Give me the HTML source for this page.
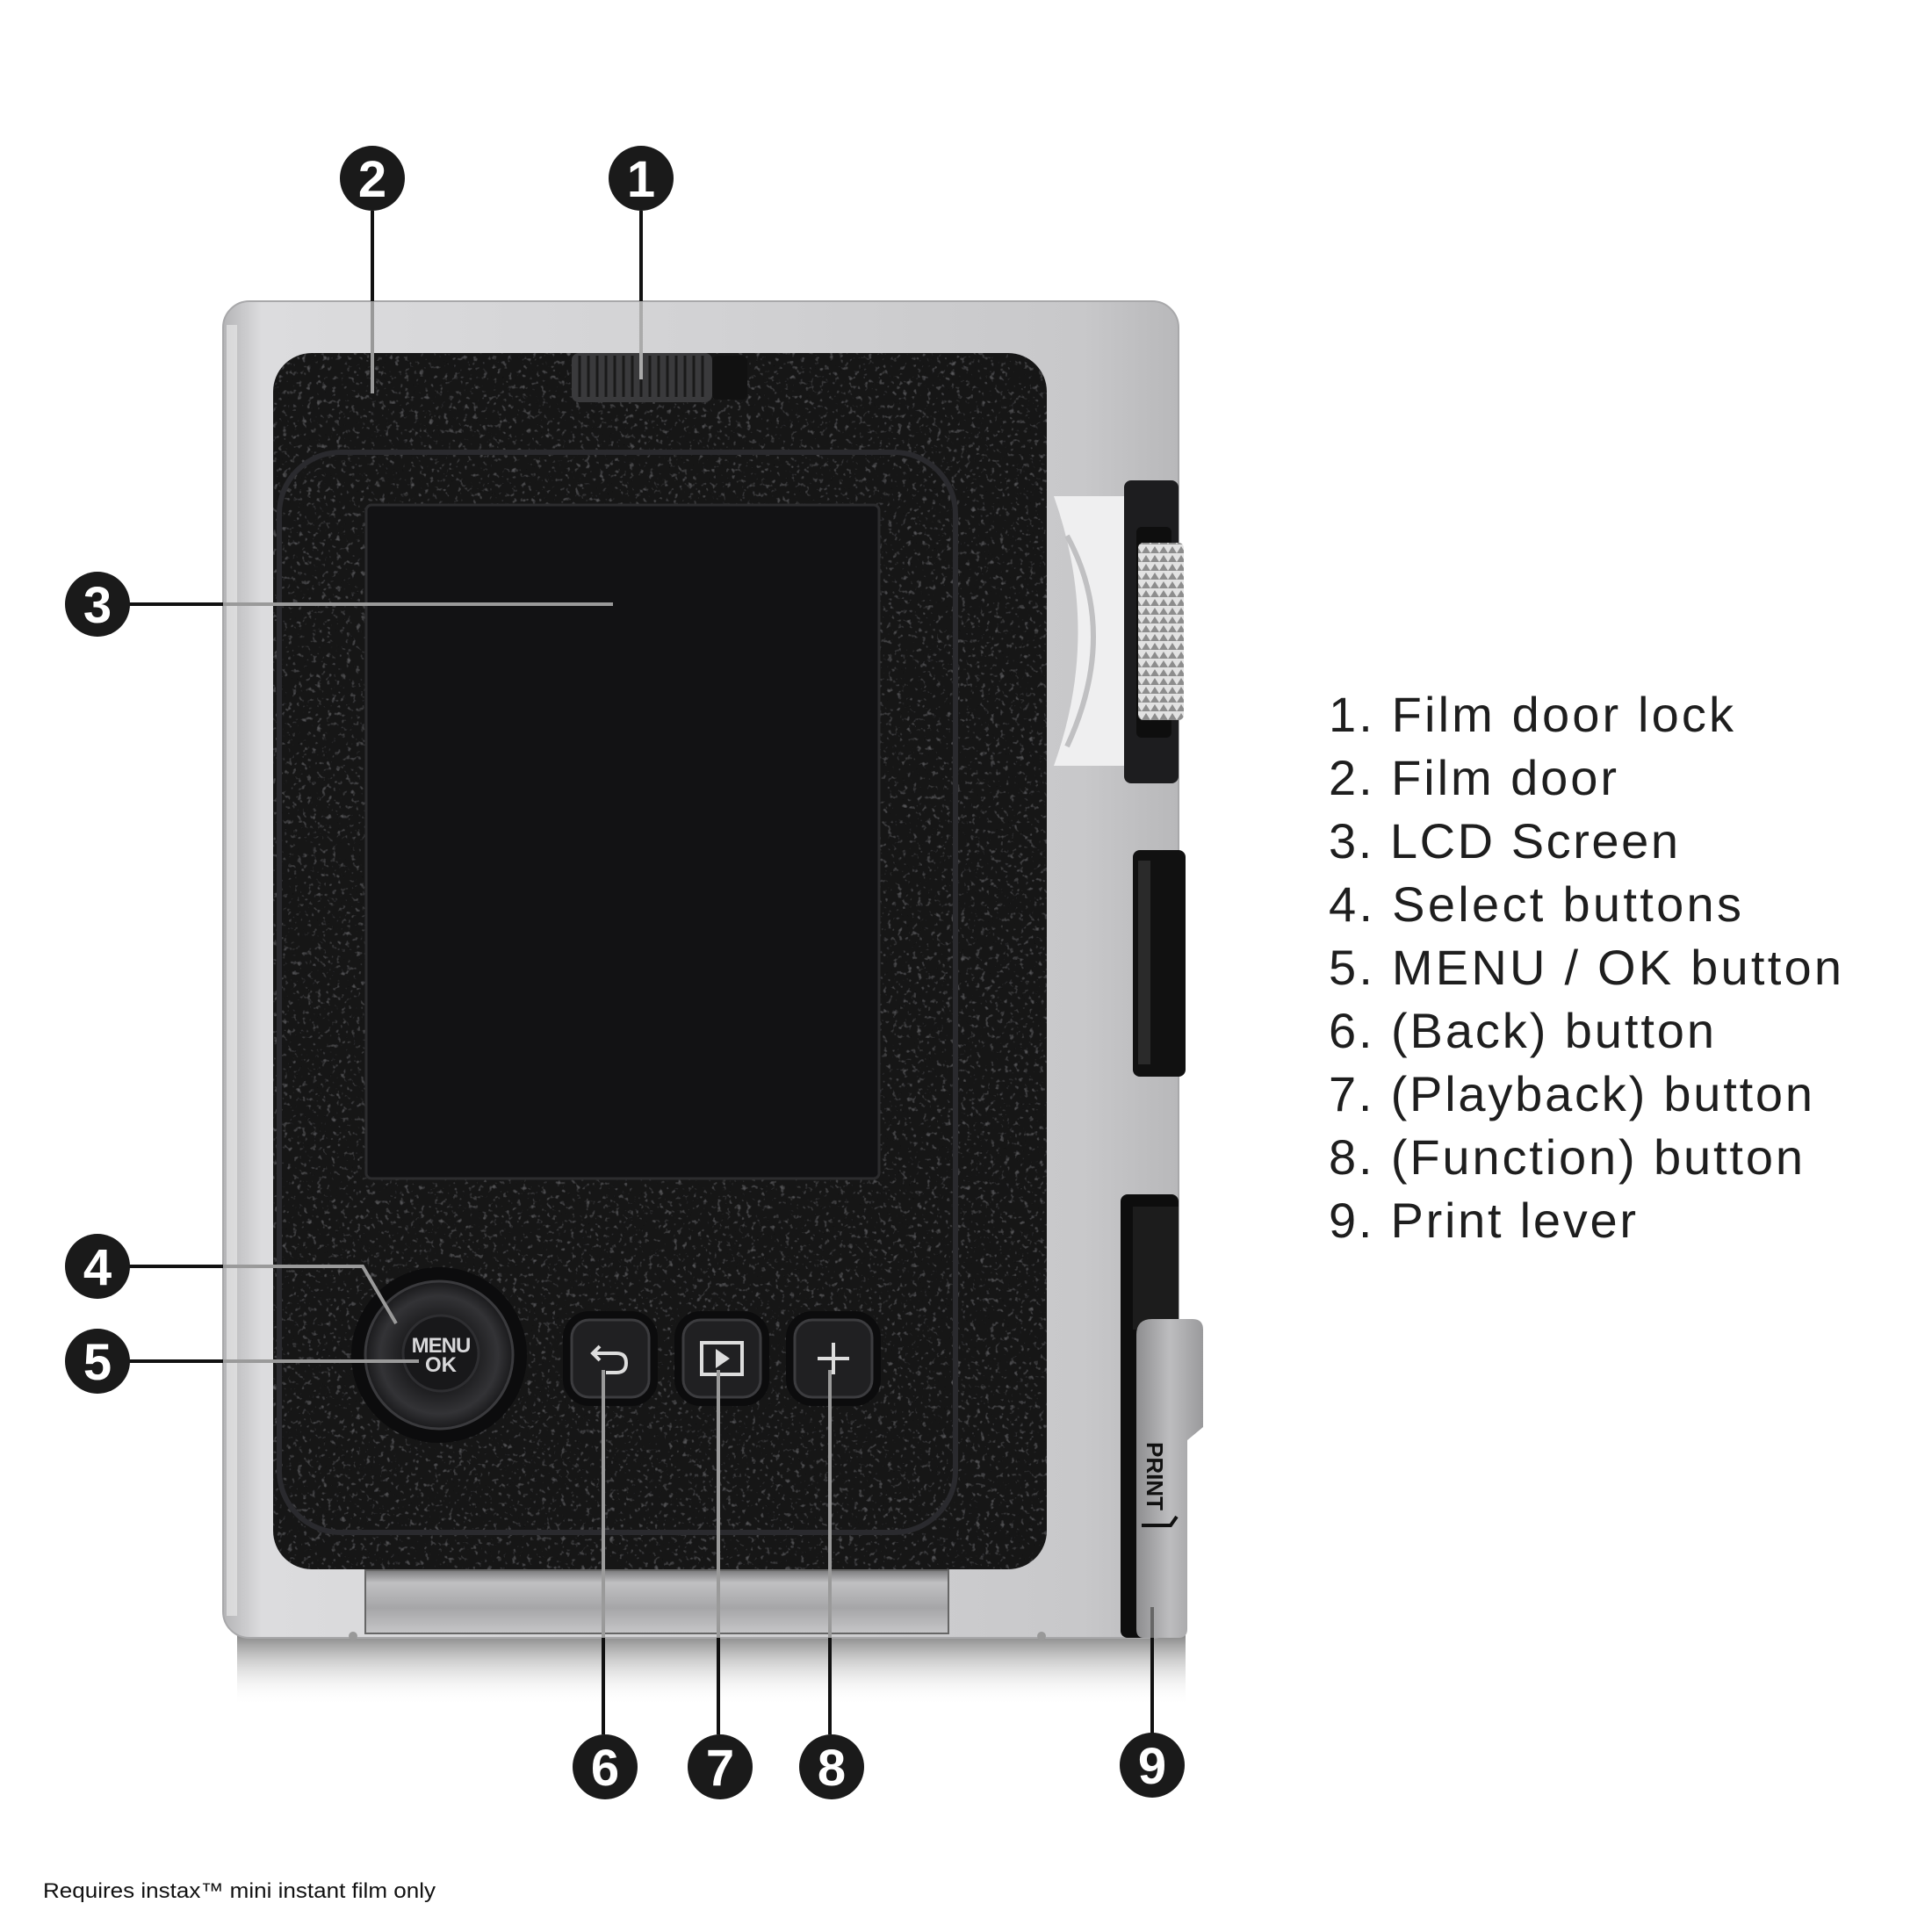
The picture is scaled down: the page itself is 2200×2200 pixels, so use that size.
<!DOCTYPE html>
<html><head><meta charset="utf-8"><style>
html,body{margin:0;padding:0;background:#fff}
svg{display:block}
</style></head><body>
<svg width="2200" height="2200" viewBox="0 0 2200 2200" xmlns="http://www.w3.org/2000/svg">
<defs>
<linearGradient id="silverH" x1="0" x2="1" y1="0" y2="0">
<stop offset="0" stop-color="#b4b4b6"/><stop offset="0.04" stop-color="#dcdcde"/><stop offset="0.5" stop-color="#d2d2d4"/><stop offset="0.9" stop-color="#c8c8ca"/><stop offset="1" stop-color="#b8b8ba"/>
</linearGradient>
<linearGradient id="hinge" x1="0" x2="0" y1="0" y2="1">
<stop offset="0" stop-color="#7a7a7c"/><stop offset="0.2" stop-color="#c0c0c2"/><stop offset="0.6" stop-color="#a6a6a8"/><stop offset="1" stop-color="#c6c6c8"/>
</linearGradient>
<linearGradient id="shadow" x1="0" x2="0" y1="0" y2="1">
<stop offset="0" stop-color="#555" stop-opacity="0.7"/><stop offset="1" stop-color="#fff" stop-opacity="0"/>
</linearGradient>
<linearGradient id="lever" x1="0" x2="1" y1="0" y2="0">
<stop offset="0" stop-color="#8e8e90"/><stop offset="0.5" stop-color="#bdbdbf"/><stop offset="1" stop-color="#9a9a9c"/>
</linearGradient>
<radialGradient id="ring" cx="0.5" cy="0.5" r="0.5">
<stop offset="0.5" stop-color="#1e1e20"/><stop offset="0.8" stop-color="#333336"/><stop offset="1" stop-color="#1a1a1c"/>
</radialGradient>
<filter id="grain" x="0" y="0" width="1" height="1">
<feTurbulence type="fractalNoise" baseFrequency="0.18" numOctaves="2" seed="3" result="n"/>
<feColorMatrix in="n" type="matrix" values="0 0 0 0 0.3  0 0 0 0 0.3  0 0 0 0 0.32  0 0 0 1.0 -0.6" result="c"/>
<feComposite in="c" in2="SourceGraphic" operator="in" result="t"/>
<feMerge><feMergeNode in="SourceGraphic"/><feMergeNode in="t"/></feMerge>
</filter>
<pattern id="knurl" width="10" height="10" patternUnits="userSpaceOnUse">
<rect width="10" height="10" fill="#e2e2e2"/><path d="M0 10 L5 2 L10 10Z" fill="#8d8d8d"/>
</pattern>
</defs>

<rect x="270" y="1862" width="1080" height="80" fill="url(#shadow)"/>

<rect x="254" y="343" width="1088" height="1522" rx="30" fill="url(#silverH)" stroke="#a8a8aa" stroke-width="2"/>
<rect x="258" y="370" width="12" height="1470" fill="#ededed" opacity="0.6"/>

<rect x="311" y="402" width="881" height="1385" rx="44" fill="#161618" filter="url(#grain)"/>
<rect x="318" y="515" width="770" height="1230" rx="70" fill="none" stroke="#2a2a2e" stroke-width="6"/>

<rect x="651" y="402" width="160" height="56" rx="8" fill="#3a3a3c"/>
<g stroke="#1a1a1a" stroke-width="3">
<line x1="660" y1="405" x2="660" y2="452"/><line x1="670" y1="405" x2="670" y2="452"/><line x1="680" y1="405" x2="680" y2="452"/><line x1="690" y1="405" x2="690" y2="452"/><line x1="700" y1="405" x2="700" y2="452"/><line x1="710" y1="405" x2="710" y2="452"/><line x1="720" y1="405" x2="720" y2="452"/><line x1="730" y1="405" x2="730" y2="452"/><line x1="740" y1="405" x2="740" y2="452"/><line x1="750" y1="405" x2="750" y2="452"/><line x1="760" y1="405" x2="760" y2="452"/><line x1="770" y1="405" x2="770" y2="452"/><line x1="780" y1="405" x2="780" y2="452"/><line x1="790" y1="405" x2="790" y2="452"/><line x1="800" y1="405" x2="800" y2="452"/>
</g>
<rect x="811" y="405" width="40" height="50" rx="6" fill="#111"/>

<rect x="417" y="575" width="584" height="767" rx="6" fill="#121214" stroke="#2c2c2e" stroke-width="3"/>

<rect x="416" y="1788" width="664" height="72" fill="url(#hinge)" stroke="#666" stroke-width="2"/>
<circle cx="402" cy="1863" r="5" fill="#999"/><circle cx="1186" cy="1863" r="5" fill="#999"/>

<path d="M1200 565 L1282 565 L1282 872 L1200 872 Q1255 720 1200 565Z" fill="#efeff0"/>
<path d="M1215 610 Q1275 720 1215 850" fill="none" stroke="#c0c0c2" stroke-width="6"/>
<rect x="1280" y="547" width="62" height="345" rx="8" fill="#1d1d1f"/>
<rect x="1294" y="600" width="40" height="240" rx="6" fill="#0e0e0e"/>
<rect x="1296" y="618" width="52" height="202" rx="6" fill="url(#knurl)"/>

<rect x="1290" y="968" width="60" height="258" rx="8" fill="#111"/>
<rect x="1296" y="980" width="14" height="232" fill="#2a2a2a"/>

<rect x="1276" y="1360" width="66" height="505" rx="8" fill="#0d0d0d"/>
<rect x="1290" y="1374" width="52" height="140" fill="#1c1c1c"/>
<path d="M1294 1520 Q1294 1502 1312 1502 L1358 1502 Q1370 1502 1370 1514 L1370 1625 L1352 1640 L1352 1855 Q1352 1865 1342 1865 L1302 1865 Q1294 1865 1294 1855Z" fill="url(#lever)"/>
<text x="0" y="0" transform="translate(1306,1642) rotate(90)" font-family="Liberation Sans, sans-serif" font-size="26" font-weight="bold" fill="#111">PRINT</text>
<path d="M1300 1737 L1333 1737 L1340 1727" fill="none" stroke="#111" stroke-width="4"/>

<circle cx="500" cy="1543" r="100" fill="#0c0c0d"/>
<circle cx="500" cy="1543" r="84" fill="url(#ring)" stroke="#3a3a3d" stroke-width="3"/>
<circle cx="502" cy="1541" r="43" fill="#18181a" stroke="#2e2e31" stroke-width="3"/>
<text x="502" y="1540" text-anchor="middle" font-family="Liberation Sans, sans-serif" font-size="24" font-weight="bold" fill="#d8d8da" letter-spacing="-1">MENU</text>
<text x="502" y="1562" text-anchor="middle" font-family="Liberation Sans, sans-serif" font-size="24" font-weight="bold" fill="#d8d8da">OK</text>

<g>
<rect x="641" y="1493" width="108" height="108" rx="30" fill="#0c0c0d"/>
<rect x="651" y="1503" width="88" height="88" rx="20" fill="#202022" stroke="#3c3c3f" stroke-width="3"/>
<path d="M683 1533 L675 1541 L683 1549 M676 1541 L702 1541 Q713 1541 713 1552 Q713 1563 702 1563 L690 1563" fill="none" stroke="#ddd" stroke-width="4"/>
<rect x="768" y="1493" width="108" height="108" rx="30" fill="#0c0c0d"/>
<rect x="778" y="1503" width="88" height="88" rx="20" fill="#202022" stroke="#3c3c3f" stroke-width="3"/>
<rect x="799" y="1529" width="46" height="36" fill="none" stroke="#ddd" stroke-width="4"/>
<path d="M815 1536 L831 1547 L815 1558Z" fill="#ddd"/>
<rect x="895" y="1493" width="108" height="108" rx="30" fill="#0c0c0d"/>
<rect x="905" y="1503" width="88" height="88" rx="20" fill="#202022" stroke="#3c3c3f" stroke-width="3"/>
<path d="M949 1529 L949 1565 M931 1547 L967 1547" stroke="#ddd" stroke-width="4"/>
</g>

<g stroke-width="4" fill="none">
<line x1="730" y1="240" x2="730" y2="343" stroke="#111"/>
<line x1="730" y1="343" x2="730" y2="432" stroke="#aaa"/>
<line x1="424" y1="240" x2="424" y2="343" stroke="#111"/>
<line x1="424" y1="343" x2="424" y2="448" stroke="#999"/>
<line x1="111" y1="688" x2="254" y2="688" stroke="#111"/>
<line x1="254" y1="688" x2="698" y2="688" stroke="#9a9a9a"/>
<line x1="111" y1="1442" x2="254" y2="1442" stroke="#111"/>
<polyline points="254,1442 413,1442 451,1507" stroke="#9a9a9a"/>
<line x1="111" y1="1550" x2="254" y2="1550" stroke="#111"/>
<line x1="254" y1="1550" x2="477" y2="1550" stroke="#9a9a9a"/>
<line x1="687" y1="1560" x2="687" y2="1865" stroke="#9a9a9a"/>
<line x1="687" y1="1865" x2="687" y2="1975" stroke="#111"/>
<line x1="818" y1="1560" x2="818" y2="1865" stroke="#9a9a9a"/>
<line x1="818" y1="1865" x2="818" y2="1975" stroke="#111"/>
<line x1="945" y1="1560" x2="945" y2="1865" stroke="#9a9a9a"/>
<line x1="945" y1="1865" x2="945" y2="1975" stroke="#111"/>
<line x1="1312" y1="1830" x2="1312" y2="1865" stroke="#666"/>
<line x1="1312" y1="1865" x2="1312" y2="1975" stroke="#111"/>
</g>

<g font-family="Liberation Sans, DejaVu Sans, sans-serif" font-weight="bold" font-size="58" fill="#fff" text-anchor="middle">
<circle cx="730" cy="203" r="37" fill="#1a1a1a"/><text x="730" y="224">1</text>
<circle cx="424" cy="203" r="37" fill="#1a1a1a"/><text x="424" y="224">2</text>
<circle cx="111" cy="688" r="37" fill="#1a1a1a"/><text x="111" y="709">3</text>
<circle cx="111" cy="1442" r="37" fill="#1a1a1a"/><text x="111" y="1463">4</text>
<circle cx="111" cy="1550" r="37" fill="#1a1a1a"/><text x="111" y="1571">5</text>
<circle cx="689" cy="2012" r="37" fill="#1a1a1a"/><text x="689" y="2033">6</text>
<circle cx="820" cy="2012" r="37" fill="#1a1a1a"/><text x="820" y="2033">7</text>
<circle cx="947" cy="2012" r="37" fill="#1a1a1a"/><text x="947" y="2033">8</text>
<circle cx="1312" cy="2010" r="37" fill="#1a1a1a"/><text x="1312" y="2031">9</text>
</g>

<g font-family="Liberation Sans, sans-serif" font-size="56" fill="#1e1e1e">
<text x="1513" y="833" textLength="461" lengthAdjust="spacing">1. Film door lock</text>
<text x="1513" y="905" textLength="328" lengthAdjust="spacing">2. Film door</text>
<text x="1513" y="977" textLength="398" lengthAdjust="spacing">3. LCD Screen</text>
<text x="1513" y="1049" textLength="470" lengthAdjust="spacing">4. Select buttons</text>
<text x="1513" y="1121" textLength="584" lengthAdjust="spacing">5. MENU / OK button</text>
<text x="1513" y="1193" textLength="439" lengthAdjust="spacing">6. (Back) button</text>
<text x="1513" y="1265" textLength="551" lengthAdjust="spacing">7. (Playback) button</text>
<text x="1513" y="1337" textLength="540" lengthAdjust="spacing">8. (Function) button</text>
<text x="1513" y="1409" textLength="350" lengthAdjust="spacing">9. Print lever</text>
</g>

<text x="49" y="2161" font-family="Liberation Sans, sans-serif" font-size="24" fill="#111" textLength="447" lengthAdjust="spacingAndGlyphs">Requires instax™ mini instant film only</text>
</svg>
</body></html>
